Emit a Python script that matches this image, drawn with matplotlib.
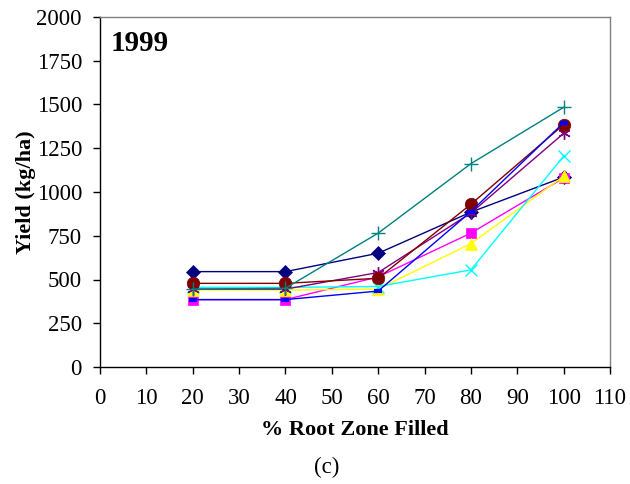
import matplotlib

matplotlib.use("Agg")
import matplotlib.pyplot as plt

plt.rcParams["font.family"] = ["Liberation Serif", "DejaVu Serif"]

# --- data ---------------------------------------------------------------
root_zone = [20, 40, 60, 80, 100]

yield_diamond = [545, 545, 650, 885, 1085]
yield_square = [385, 385, 515, 765, 1080]
yield_triangle = [440, 440, 445, 705, 1090]
yield_cross = [455, 455, 460, 555, 1205]
yield_star = [445, 445, 540, 880, 1335]
yield_circle = [478, 478, 507, 930, 1385]
yield_plus = [445, 450, 765, 1162, 1484]
yield_dash = [385, 385, 434, 888, 1396]

series = [
    (yield_diamond, "#000080", "D", 7),
    (yield_square, "#FF00FF", "s", 7),
    (yield_triangle, "#FFFF00", "^", 8),
    (yield_cross, "#00FFFF", "x", 9),
    (yield_star, "#800080", (6, 2, 0), 9),
    (yield_circle, "#800000", "o", 9),
    (yield_plus, "#008080", "+", 10),
    (yield_dash, "#0000FF", "_", 6),
]

x_ticks = list(range(0, 111, 10))
y_ticks = list(range(0, 2001, 250))

# --- plot -----------------------------------------------------------------
fig = plt.figure(figsize=(6.3, 4.84), dpi=100)
ax = fig.add_axes([100 / 630, 1 - 367 / 484, 510 / 630, 350 / 484])

for values, color, marker, ms in series:
    filled = marker in ("D", "s", "^", "o", "_")
    ax.plot(root_zone, values, color=color, lw=1.0, marker=marker,
            markersize=ms,
            markerfacecolor=color,
            markeredgecolor=color,
            markeredgewidth=3 if marker == "_" else (1.0 if not filled else 0.5))

ax.set_xlim(0, 110)
ax.set_ylim(0, 2000)
ax.set_xticks(x_ticks)
ax.set_yticks(y_ticks)
ax.tick_params(labelsize=16.5, direction="out", length=5, width=1,
               top=False, right=False)
ax.tick_params(axis="x", pad=10)
ax.tick_params(axis="y", pad=8)
for side in ("top", "right"):
    ax.spines[side].set_color("#808080")
    ax.spines[side].set_linewidth(1)
for side in ("left", "bottom"):
    ax.spines[side].set_linewidth(1)

ax.set_xlabel("% Root Zone Filled", fontsize=16, fontweight="bold",
              labelpad=8)
ax.set_ylabel("Yield (kg/ha)", fontsize=16, fontweight="bold", labelpad=0)
ax.text(0.02, 0.925, "1999", transform=ax.transAxes, fontsize=21,
        fontweight="bold", va="center", ha="left")
fig.text(327 / 630, 1 - 467 / 484, "(c)", fontsize=16.5, ha="center",
         va="center")

fig.savefig("out.png", dpi=100)
